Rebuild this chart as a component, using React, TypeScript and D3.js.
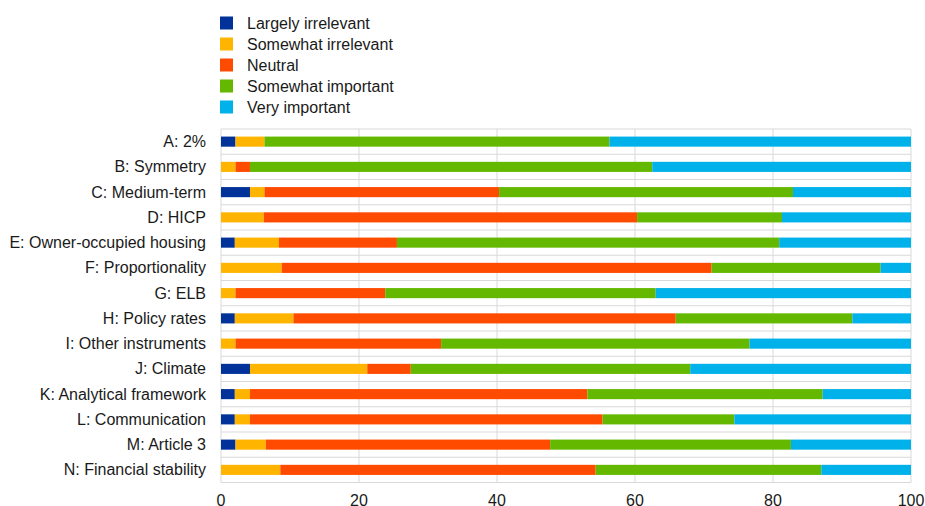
import React from "react";
import * as d3 from "d3";

const categories = [
  "A: 2%",
  "B: Symmetry",
  "C: Medium-term",
  "D: HICP",
  "E: Owner-occupied housing",
  "F: Proportionality",
  "G: ELB",
  "H: Policy rates",
  "I: Other instruments",
  "J: Climate",
  "K: Analytical framework",
  "L: Communication",
  "M: Article 3",
  "N: Financial stability",
];

const seriesNames = [
  "Largely irrelevant",
  "Somewhat irrelevant",
  "Neutral",
  "Somewhat important",
  "Very important",
];

const largelyIrrelevant = [2.1, 0, 4.2, 0, 2.0, 0, 0, 2.0, 0, 4.2, 2.0, 2.0, 2.1, 0];
const somewhatIrrelevant = [4.2, 2.1, 2.1, 6.2, 6.4, 8.8, 2.1, 8.5, 2.1, 17.0, 2.2, 2.2, 4.4, 8.6];
const neutral = [0, 2.1, 34.0, 54.1, 17.1, 62.3, 21.7, 55.4, 29.8, 6.3, 48.9, 51.1, 41.2, 45.7];
const somewhatImportant = [50.0, 58.3, 42.6, 21.0, 55.4, 24.5, 39.2, 25.6, 44.7, 40.5, 34.1, 19.1, 34.9, 32.7];
const veryImportant = [43.7, 37.5, 17.1, 18.7, 19.1, 4.4, 37.0, 8.5, 23.4, 32.0, 12.8, 25.6, 17.4, 13.0];

const xTicks = [0, 20, 40, 60, 80, 100];

const colors = ["#003299", "#FFB400", "#FF4B00", "#65B800", "#00B1EA"];

const W = 925;
const H = 506;
const FONT = "'Liberation Sans', Arial, sans-serif";
const FS = 16;

export default function App() {
  const seriesValues = [largelyIrrelevant, somewhatIrrelevant, neutral, somewhatImportant, veryImportant];
  const rows = categories.map((c, i) => {
    const r: any = { category: c };
    seriesNames.forEach((s, j) => (r[s] = seriesValues[j][i]));
    return r;
  });
  const stacked = d3.stack().keys(seriesNames)(rows);

  const x = d3.scaleLinear().domain([0, 100]).range([221, 911]);
  const top = 129;
  const bottom = 482.5;
  const y = d3
    .scaleBand<string>()
    .domain(categories)
    .range([top, bottom])
    .paddingInner(0.6)
    .paddingOuter(0.3);
  const step = y.step();
  const gridYs = d3.range(categories.length + 1).map((i) => top + i * step);

  const grid = "#d9d9d9";

  return (
    <svg
      width={W}
      height={H}
      style={{ position: "absolute", left: 0, top: 0, background: "#fff" }}
      fontFamily={FONT}
    >
      {gridYs.map((gy, i) => (
        <line key={"h" + i} x1={x(0)} x2={x(100)} y1={gy} y2={gy} stroke={grid} strokeWidth={1} />
      ))}
      {xTicks.map((t) => (
        <line key={"v" + t} x1={x(t)} x2={x(t)} y1={top} y2={bottom} stroke={grid} strokeWidth={1} />
      ))}
      {stacked.map((layer, si) => (
        <g key={layer.key} fill={colors[si]}>
          {layer.map((d, i) =>
            d[1] - d[0] > 0 ? (
              <rect
                key={i}
                x={x(d[0])}
                width={x(d[1]) - x(d[0])}
                y={y(categories[i])}
                height={y.bandwidth()}
              />
            ) : null
          )}
        </g>
      ))}
      {categories.map((c) => (
        <text
          key={c}
          x={206}
          y={(y(c) as number) + y.bandwidth() / 2}
          dy="0.35em"
          textAnchor="end"
          fontSize={FS}
          fill="#1a1a1a"
        >
          {c}
        </text>
      ))}
      {xTicks.map((t) => (
        <text key={"t" + t} x={x(t)} y={505.5} textAnchor="middle" fontSize={FS} fill="#1a1a1a">
          {t}
        </text>
      ))}
      {seriesNames.map((s, i) => (
        <g key={s} transform={`translate(220, ${16.5 + i * 21})`}>
          <rect x={0} y={0} width={13} height={13} fill={colors[i]} />
          <text x={27} y={6.5} dy="0.35em" fontSize={FS} fill="#1a1a1a">
            {s}
          </text>
        </g>
      ))}
    </svg>
  );
}
